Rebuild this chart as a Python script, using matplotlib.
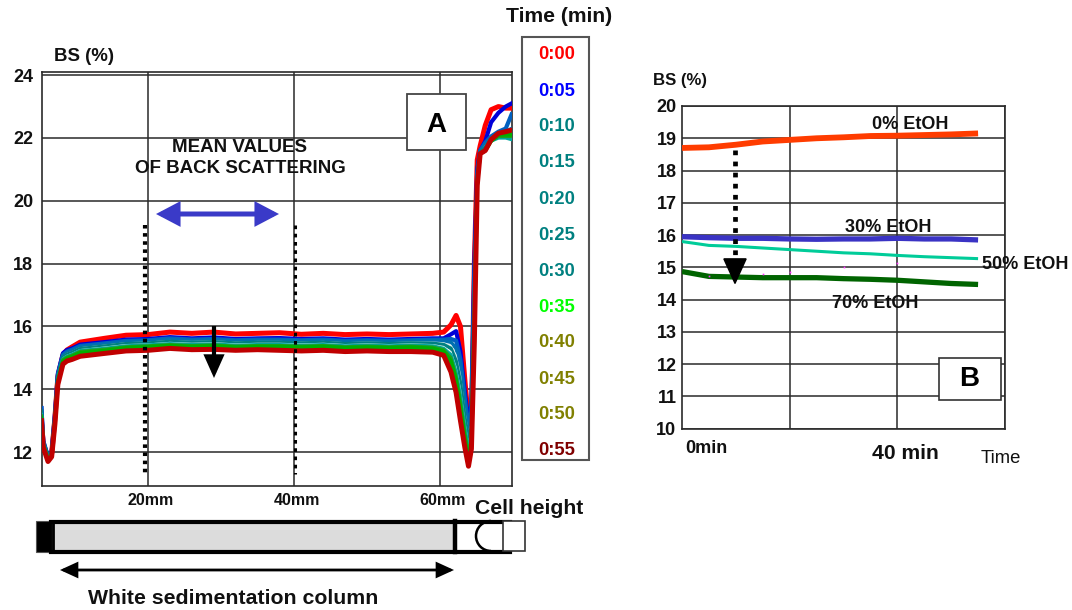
import matplotlib
matplotlib.use("Agg")
import matplotlib.pyplot as plt
from matplotlib.patches import Rectangle, Arc, FancyArrowPatch
from matplotlib.transforms import ScaledTranslation

plt.rcParams['font.family'] = ['Liberation Sans', 'DejaVu Sans']

W, H = 1072, 610

# ---- Panel A data -------------------------------------------------------
height_mm = [5.4, 5.65, 6.3, 6.8, 7.25, 7.65, 8.35, 8.9, 9.6, 10.7, 14, 17, 20, 23, 26, 29, 32, 35, 38, 41,
             44, 47, 50, 53, 56, 59, 60.5, 61.5, 62.2, 62.8, 63.4, 63.9, 64.3, 64.7, 65.1, 65.5, 66.2, 67, 68, 69, 69.8]
bs_000 = [13.0, 12.25, 11.8, 11.95, 13.1, 14.4, 15.1, 15.25, 15.35, 15.5, 15.62, 15.72, 15.74, 15.82, 15.78, 15.82, 15.76, 15.78, 15.8, 15.75,
          15.78, 15.74, 15.76, 15.74, 15.76, 15.78, 15.82, 16.05, 16.35, 16.0, 14.3, 13.0, 12.8, 18.0, 21.3, 21.75, 22.4, 22.9, 23.0, 22.95, 22.95]
bs_005 = [13.4, 12.35, 11.85, 12.0, 13.2, 14.5, 15.15, 15.25, 15.3, 15.42, 15.5, 15.58, 15.6, 15.66, 15.62, 15.65, 15.6, 15.62, 15.63, 15.6,
          15.62, 15.58, 15.6, 15.58, 15.6, 15.62, 15.62, 15.75, 15.85, 15.2, 13.9, 12.95, 13.5, 18.0, 21.0, 21.6, 21.9, 22.5, 22.8, 23.0, 23.1]
bs_010 = [13.4, 12.35, 11.85, 12.0, 13.15, 14.45, 15.1, 15.2, 15.26, 15.38, 15.46, 15.54, 15.56, 15.62, 15.58, 15.6, 15.56, 15.58, 15.58, 15.56,
          15.58, 15.54, 15.56, 15.54, 15.56, 15.58, 15.58, 15.6, 15.55, 14.95, 13.7, 12.8, 13.3, 17.5, 20.9, 21.6, 21.85, 22.05, 22.2, 22.3, 22.75]
bs_015 = [13.3, 12.3, 11.85, 11.95, 13.15, 14.45, 15.08, 15.17, 15.23, 15.35, 15.43, 15.51, 15.53, 15.58, 15.55, 15.57, 15.53, 15.55, 15.55, 15.53,
          15.55, 15.51, 15.53, 15.51, 15.53, 15.54, 15.53, 15.5, 15.3, 14.7, 13.5, 12.7, 13.1, 17.2, 20.8, 21.55, 21.8, 22.0, 22.15, 22.2, 22.3]
bs_020 = [13.3, 12.3, 11.85, 11.95, 13.1, 14.4, 15.05, 15.14, 15.2, 15.32, 15.4, 15.48, 15.5, 15.55, 15.52, 15.54, 15.5, 15.52, 15.52, 15.5,
          15.52, 15.48, 15.5, 15.48, 15.5, 15.5, 15.48, 15.4, 15.1, 14.45, 13.3, 12.55, 12.95, 17.0, 20.8, 21.55, 21.75, 21.95, 22.1, 22.15, 22.2]
bs_025 = [13.3, 12.3, 11.85, 11.95, 13.1, 14.4, 15.02, 15.11, 15.17, 15.29, 15.37, 15.45, 15.47, 15.52, 15.49, 15.51, 15.47, 15.49, 15.49, 15.47,
          15.49, 15.45, 15.47, 15.45, 15.47, 15.46, 15.42, 15.3, 14.9, 14.2, 13.1, 12.4, 12.8, 16.8, 20.7, 21.55, 21.7, 21.95, 22.05, 22.1, 22.1]
bs_030 = [13.2, 12.3, 11.85, 11.9, 13.05, 14.35, 15.0, 15.08, 15.14, 15.26, 15.34, 15.42, 15.44, 15.49, 15.46, 15.48, 15.44, 15.46, 15.46, 15.44,
          15.46, 15.42, 15.44, 15.42, 15.44, 15.42, 15.36, 15.2, 14.7, 14.0, 12.95, 12.25, 12.7, 16.6, 20.7, 21.5, 21.65, 21.9, 22.0, 22.05, 22.05]
bs_035 = [13.2, 12.25, 11.8, 11.9, 13.05, 14.35, 14.97, 15.05, 15.11, 15.23, 15.3, 15.38, 15.41, 15.45, 15.42, 15.44, 15.4, 15.42, 15.42, 15.4,
          15.42, 15.38, 15.4, 15.38, 15.4, 15.38, 15.3, 15.1, 14.55, 13.8, 12.8, 12.1, 12.55, 16.4, 20.6, 21.5, 21.6, 21.9, 22.0, 22.0, 21.95]
bs_040 = [13.15, 12.25, 11.8, 11.9, 13.0, 14.3, 14.94, 15.02, 15.08, 15.2, 15.27, 15.35, 15.38, 15.42, 15.39, 15.41, 15.37, 15.39, 15.39, 15.37,
          15.39, 15.35, 15.37, 15.35, 15.37, 15.34, 15.26, 15.0, 14.4, 13.6, 12.6, 11.95, 12.4, 16.2, 20.6, 21.5, 21.6, 21.9, 22.05, 22.05, 22.05]
bs_045 = [13.1, 12.2, 11.75, 11.85, 13.0, 14.25, 14.9, 14.98, 15.04, 15.16, 15.23, 15.32, 15.35, 15.39, 15.36, 15.38, 15.34, 15.36, 15.36, 15.34,
          15.36, 15.32, 15.34, 15.32, 15.34, 15.3, 15.2, 14.9, 14.3, 13.4, 12.45, 11.8, 12.3, 16.0, 20.6, 21.5, 21.6, 21.9, 22.1, 22.1, 22.1]
bs_050 = [13.05, 12.2, 11.75, 11.85, 12.95, 14.2, 14.86, 14.94, 15.0, 15.12, 15.19, 15.28, 15.31, 15.35, 15.32, 15.34, 15.3, 15.32, 15.32, 15.3,
          15.32, 15.28, 15.3, 15.28, 15.3, 15.26, 15.14, 14.75, 14.1, 13.2, 12.3, 11.65, 12.2, 15.8, 20.5, 21.5, 21.6, 21.95, 22.1, 22.15, 22.2]
bs_055 = [13.0, 12.15, 11.7, 11.85, 12.9, 14.15, 14.8, 14.9, 14.95, 15.05, 15.14, 15.22, 15.24, 15.3, 15.26, 15.27, 15.24, 15.26, 15.24, 15.22,
          15.24, 15.2, 15.22, 15.2, 15.2, 15.18, 15.08, 14.55, 13.9, 13.0, 12.15, 11.55, 12.1, 15.5, 20.5, 21.5, 21.6, 21.95, 22.15, 22.2, 22.25]
series_a = [bs_000, bs_005, bs_010, bs_015, bs_020, bs_025, bs_030, bs_035, bs_040, bs_045, bs_050, bs_055]
time_labels = ['0:00', '0:05', '0:10', '0:15', '0:20', '0:25', '0:30', '0:35', '0:40', '0:45', '0:50', '0:55']
label_colors = ['#ff0000', '#0000ff', '#008080', '#008080', '#008080', '#008080', '#008080', '#00ff00',
                '#808000', '#808000', '#808000', '#800000']
line_colors = ['#ff0000', '#0000d8', '#0060c0', '#0070b0', '#d8f0ec', '#008080', '#e8f4f0', '#00a8a0',
               '#20a020', '#00b000', '#00b000', '#c00000']
line_widths = [3.6, 3.0, 3.0, 2.6, 0.9, 2.6, 0.9, 2.4, 2.4, 2.6, 2.6, 3.6]
a_yticks = [12, 14, 16, 18, 20, 22, 24]
a_xticks = [20, 40, 60]
a_xlabels = ['20mm', '40mm', '60mm']

# ---- Panel B data -------------------------------------------------------
minutes = [0, 5, 10, 15, 20, 25, 30, 35, 40, 45, 50, 55]
etoh_0 = [18.7, 18.72, 18.8, 18.9, 18.95, 19.0, 19.03, 19.07, 19.08, 19.1, 19.12, 19.15]
etoh_30 = [15.95, 15.92, 15.9, 15.9, 15.88, 15.87, 15.88, 15.88, 15.9, 15.88, 15.88, 15.85]
etoh_50 = [15.8, 15.68, 15.65, 15.6, 15.55, 15.5, 15.45, 15.42, 15.37, 15.33, 15.3, 15.27]
etoh_70 = [14.87, 14.72, 14.7, 14.68, 14.68, 14.68, 14.65, 14.63, 14.6, 14.55, 14.5, 14.47]
dots_min = [5, 15, 20, 30, 40]
dots_val = [14.72, 14.78, 14.85, 15.0, 15.15]
b_yticks = [10, 11, 12, 13, 14, 15, 16, 17, 18, 19, 20]
b_xgrid = [20, 40, 60]

fig = plt.figure(figsize=(W / 100, H / 100), dpi=100, facecolor='white')

def px_axes(l, t, r, b, **kw):
    return fig.add_axes([l / W, 1 - b / H, (r - l) / W, (b - t) / H], **kw)

GRID = '#2a2a2a'

# Panel A
axa = px_axes(41.5, 72, 512, 486)
axa.set_xlim(5.41, 69.86)
axa.set_ylim(10.92, 24.1)
for s, c, w in zip(series_a, line_colors, line_widths):
    axa.plot(height_mm, s, color=c, lw=w, solid_joinstyle='round', zorder=3)
axa.set_xticks(a_xticks)
axa.set_xticklabels(a_xlabels, fontsize=11.5, fontweight='bold', color='#111111')
axa.set_yticks(a_yticks)
axa.set_yticklabels(a_yticks, fontsize=13, fontweight='bold', color='#111111')
axa.tick_params(axis='both', length=0)
axa.tick_params(axis='y', pad=6)
axa.tick_params(axis='x', pad=5)
xoff = ScaledTranslation(2.5 / 100, 0, fig.dpi_scale_trans)
for lab in axa.get_xticklabels():
    lab.set_transform(lab.get_transform() + xoff)
axa.grid(True, color=GRID, lw=1.1)
axa.set_axisbelow(True)
for sp in axa.spines.values():
    sp.set_color(GRID)
    sp.set_linewidth(1.2)

# Panel B
axb = px_axes(682, 106, 1005, 428.7)
axb.set_xlim(0, 59.8)
axb.set_ylim(10, 20)
axb.plot(minutes, etoh_0, color='#ff3c00', lw=4.2, solid_capstyle='butt', zorder=3)
axb.plot(minutes, etoh_30, color='#3a33c4', lw=3.8, solid_capstyle='butt', zorder=3)
axb.plot(minutes, etoh_50, color='#00cc99', lw=2.2, solid_capstyle='butt', zorder=3)
axb.plot(minutes, etoh_70, color='#006400', lw=3.8, solid_capstyle='butt', zorder=3)
axb.plot(dots_min, dots_val, ls='none', marker='s', ms=1.2, color='#ff33ff', mew=0, zorder=4)
axb.set_xticks(b_xgrid)
axb.set_xticklabels([])
axb.set_yticks(b_yticks)
axb.set_yticklabels(b_yticks, fontsize=13, fontweight='bold', color='#111111')
off = ScaledTranslation(0, -3 / 100, fig.dpi_scale_trans)
for lab in axb.get_yticklabels():
    lab.set_transform(lab.get_transform() + off)
axb.tick_params(axis='both', length=0)
axb.tick_params(axis='y', pad=4)
axb.grid(True, color=GRID, lw=1.1)
axb.set_axisbelow(True)
for sp in axb.spines.values():
    sp.set_color(GRID)
    sp.set_linewidth(1.2)

# Overlay in pixel coordinates for annotations
ov = fig.add_axes([0, 0, 1, 1], zorder=10)
ov.set_xlim(0, W)
ov.set_ylim(H, 0)
ov.axis('off')
ov.patch.set_alpha(0)

def txt(x, y, s, size=13, weight='bold', color='#111111', ha='center', z=12):
    ov.text(x, y + 1.5, s, fontsize=size, fontweight=weight, color=color, ha=ha, va='center', zorder=z)

def arrow(x0, y0, x1, y1, style, color='black', lw=3, ms=14):
    ov.add_patch(FancyArrowPatch((x0, y0), (x1, y1), arrowstyle=style, mutation_scale=ms,
                                 color=color, lw=lw, shrinkA=0, shrinkB=0, zorder=8,
                                 joinstyle='miter', capstyle='butt'))

txt(84, 55, 'BS (%)', 13.4)
txt(559, 15, 'Time (min)', 15.2)

# Legend box
ov.add_patch(Rectangle((522, 37), 67, 423, fc='white', ec='#555555', lw=1.5, zorder=5))
ys = [53, 90, 125, 161, 198, 234, 270, 306, 341, 378, 413, 449]
for y, s, c in zip(ys, time_labels, label_colors):
    txt(557, y, s, 13.2, color=c)

# A box
ov.add_patch(Rectangle((407, 94), 59, 56, fc='white', ec='#444444', lw=1.3, zorder=5))
txt(436, 123, 'A', 20, color='black')

txt(240, 146, 'MEAN VALUES', 13.5)
txt(240, 167, 'OF BACK SCATTERING', 13.5)
arrow(156, 214, 279, 214, '<|-|>,head_width=0.42,head_length=0.8', color='#3a3ac8', lw=3.6, ms=15)

# Dotted guides and arrow
ov.plot([145, 145], [225, 474], color='black', lw=3, ls=(0, (0.85, 1.1)), zorder=7)
ov.plot([295, 295], [225, 474], color='black', lw=2.2, ls=(0, (1.2, 1.5)), zorder=7)
arrow(214, 326, 214, 378, '-|>,head_width=0.38,head_length=0.85', lw=3, ms=14)

# Tube under panel A
ov.add_patch(Rectangle((36, 521), 16, 31, fc='black', ec='#555555', lw=0.8, zorder=5))
ov.add_patch(Rectangle((53, 523), 402, 27, fc='#dcdcdc', ec='none', zorder=4))
ov.plot([51, 510], [521.5, 521.5], color='black', lw=3, zorder=6)
ov.plot([51, 510], [551.5, 551.5], color='black', lw=3, zorder=6)
ov.plot([52.5, 52.5], [521, 552], color='black', lw=2, zorder=6)
ov.plot([455, 455], [521, 552], color='black', lw=3.2, zorder=6)
ov.add_patch(Arc((491, 536), 30, 30, theta1=90, theta2=270, color='black', lw=1.8, zorder=6))
ov.add_patch(Rectangle((503, 521), 22, 30, fc='white', ec='#333333', lw=1.2, zorder=7))
arrow(60, 570, 454, 570, '<|-|>,head_width=0.32,head_length=0.7', lw=2, ms=14)
txt(233, 597, 'White sedimentation column', 15.3)
txt(529, 507, 'Cell height', 15.2)

# Panel B annotations
txt(680, 79, 'BS (%)', 12.1)
txt(910, 123, '0% EtOH', 13.0)
txt(888, 226, '30% EtOH', 13.0)
txt(1025, 263, '50% EtOH', 13.0)
txt(875, 302, '70% EtOH', 13.0)
txt(706, 447, '0min', 13.0)
txt(905, 452, '40 min', 15.2)
txt(1001, 457, 'Time', 13.3, weight='normal')
ov.add_patch(Rectangle((939, 358), 62, 42, fc='white', ec='#333333', lw=1.2, zorder=5))
txt(969, 378, 'B', 20, color='black')
ov.plot([735, 735], [150, 267], color='black', lw=3.4, ls=(0, (1.0, 1.35)), zorder=7)
arrow(735, 265, 735, 285, '-|>,head_width=0.5,head_length=1.1', lw=1, ms=16)

fig.savefig('out.png', dpi=100, facecolor='white')
